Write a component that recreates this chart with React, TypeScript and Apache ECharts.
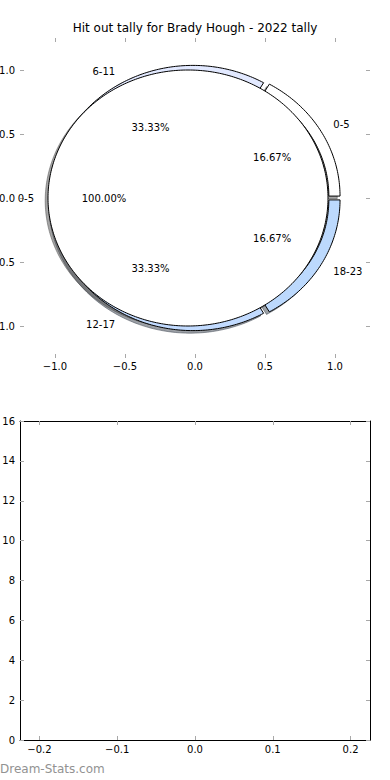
import React, { useEffect, useRef } from "react";
import * as echarts from "echarts";

// ---- data ----
const titleText = "Hit out tally for Brady Hough - 2022 tally";
const outerLabels = ["0-5", "6-11", "12-17", "18-23"];
const outerValues = [1, 2, 2, 1];
const innerLabels = ["0-5"];
const innerValues = [1];
const pieTicks = [-1, -0.5, 0, 0.5, 1];
const lowerXTicks = [-0.2, -0.1, 0, 0.1, 0.2];
const lowerYMin = 0;
const lowerYMax = 16;
const lowerYStep = 2;
const watermark = "Dream-Stats.com";

// ---- style ----
const FONT = "DejaVu Sans";
const OUTER_COLORS = ["#ffffff", "#e2e9ff", "#c2dbff", "#bcd9fd"];
const INNER_COLORS = ["#ffffff"];
const OUTER = { radius: 1.01, width: 0.08, explode: 0.03 };
const INNER = { radius: 1.0, width: 0, explode: 0.05 };
const SHADOW = [-0.02, -0.02];
const LABEL_DIST = 1.1;
const PCT_DIST = 0.6;
const TICK_COLOR = "#a8a8a8";

type Cfg = { radius: number; width: number; explode: number };

function wedges(values: number[], cfg: Cfg) {
  const total = values.reduce((a, b) => a + b, 0);
  let acc = 0;
  return values.map((v) => {
    const t1 = (acc / total) * 360;
    acc += v;
    const t2 = (acc / total) * 360;
    const mid = (((t1 + t2) / 2) * Math.PI) / 180;
    return {
      t1,
      t2,
      mid,
      cx: cfg.explode * Math.cos(mid),
      cy: cfg.explode * Math.sin(mid),
      pct: (v / total) * 100,
    };
  });
}

function wedgePoints(w: any, cfg: Cfg, api: any, dx: number, dy: number) {
  const pts: number[][] = [];
  const span = w.t2 - w.t1;
  const n = Math.max(12, Math.ceil(span));
  for (let k = 0; k <= n; k++) {
    const a = ((w.t1 + (span * k) / n) * Math.PI) / 180;
    pts.push(api.coord([w.cx + dx + cfg.radius * Math.cos(a), w.cy + dy + cfg.radius * Math.sin(a)]));
  }
  if (cfg.width > 0) {
    const r2 = cfg.radius - cfg.width;
    for (let k = n; k >= 0; k--) {
      const a = ((w.t1 + (span * k) / n) * Math.PI) / 180;
      pts.push(api.coord([w.cx + dx + r2 * Math.cos(a), w.cy + dy + r2 * Math.sin(a)]));
    }
  } else if (span < 359.999) {
    pts.push(api.coord([w.cx + dx, w.cy + dy]));
  }
  return pts;
}

function shadowColor(hex: string) {
  const r = parseInt(hex.slice(1, 3), 16);
  const g = parseInt(hex.slice(3, 5), 16);
  const b = parseInt(hex.slice(5, 7), 16);
  return `rgba(${Math.round(r * 0.3)},${Math.round(g * 0.3)},${Math.round(b * 0.3)},0.5)`;
}

function fmt1(v: number) {
  const s = Math.abs(v).toFixed(1);
  return v < -1e-9 ? "\u2212" + s : s;
}

function pieSeries(values: number[], colors: string[], cfg: Cfg, kind: "shadow" | "wedge", z: number) {
  const ws = wedges(values, cfg);
  return {
    type: "custom",
    coordinateSystem: "cartesian2d",
    xAxisIndex: 0,
    yAxisIndex: 0,
    z,
    silent: true,
    clip: false,
    data: values.map((v, i) => [i, v]),
    renderItem: (params: any, api: any) => {
      const i = params.dataIndex;
      const w = ws[i];
      if (kind === "shadow") {
        const c = shadowColor(colors[i]);
        return {
          type: "polygon",
          shape: { points: wedgePoints(w, cfg, api, SHADOW[0], SHADOW[1]) },
          style: { fill: c, stroke: c, lineWidth: 1 },
        };
      }
      return {
        type: "polygon",
        shape: { points: wedgePoints(w, cfg, api, 0, 0) },
        style: { fill: colors[i], stroke: "#000", lineWidth: 1 },
      };
    },
  };
}

function labelSeries(values: number[], labels: string[], cfg: Cfg, z: number) {
  const ws = wedges(values, cfg);
  return {
    type: "custom",
    coordinateSystem: "cartesian2d",
    xAxisIndex: 0,
    yAxisIndex: 0,
    z,
    silent: true,
    clip: false,
    data: values.map((v, i) => [i, v]),
    renderItem: (params: any, api: any) => {
      const i = params.dataIndex;
      const w = ws[i];
      const lx = w.cx + cfg.radius * LABEL_DIST * Math.cos(w.mid);
      const ly = w.cy + cfg.radius * LABEL_DIST * Math.sin(w.mid);
      const px = w.cx + cfg.radius * PCT_DIST * Math.cos(w.mid);
      const py = w.cy + cfg.radius * PCT_DIST * Math.sin(w.mid);
      const lp = api.coord([lx, ly]);
      const pp = api.coord([px, py]);
      return {
        type: "group",
        children: [
          {
            type: "text",
            x: lp[0],
            y: lp[1],
            style: {
              text: labels[i],
              fontSize: 10,
              fontFamily: FONT,
              fill: "#000",
              align: lx > 0 ? "left" : "right",
              verticalAlign: "middle",
            },
          },
          {
            type: "text",
            x: pp[0],
            y: pp[1],
            style: {
              text: w.pct.toFixed(2) + "%",
              fontSize: 10,
              fontFamily: FONT,
              fill: "#000",
              align: "center",
              verticalAlign: "middle",
            },
          },
        ],
      };
    },
  };
}

export default function App() {
  const ref = useRef<HTMLDivElement>(null);
  useEffect(() => {
    if (!ref.current) return;
    const chart = echarts.init(ref.current, undefined, { renderer: "svg" });
    const tick = (cv: number[] | undefined) => ({
      show: true,
      inside: true,
      length: 4,
      ...(cv ? { customValues: cv } : {}),
      lineStyle: { color: TICK_COLOR, width: 1 },
    });
    const lbl = (cv: number[] | undefined, margin: number, formatter: any) => ({
      show: true,
      ...(cv ? { customValues: cv } : {}),
      fontSize: 10,
      fontFamily: FONT,
      color: "#000",
      margin,
      formatter,
    });
    const frame = { show: true, onZero: false, lineStyle: { color: "#000", width: 1 } };
    const noLine = { show: false, onZero: false };

    const option: any = {
      animation: false,
      backgroundColor: "#fff",
      title: {
        text: titleText,
        left: "center",
        top: 22,
        padding: 0,
        textStyle: { fontSize: 12, fontWeight: "normal", fontFamily: FONT, color: "#000" },
      },
      grid: [
        { left: 20, top: 38, width: 350, height: 320, outerBoundsMode: "none", containLabel: false },
        { left: 20, top: 421, width: 350, height: 319, outerBoundsMode: "none", containLabel: false },
      ],
      xAxis: [
        {
          gridIndex: 0, type: "value", min: -1.25, max: 1.25, position: "bottom",
          axisLine: noLine, splitLine: { show: false },
          axisTick: tick(pieTicks), axisLabel: lbl(pieTicks, 3, fmt1),
        },
        {
          gridIndex: 0, type: "value", min: -1.25, max: 1.25, position: "top",
          axisLine: noLine, splitLine: { show: false },
          axisTick: tick(pieTicks), axisLabel: { show: false, customValues: pieTicks },
        },
        {
          gridIndex: 1, type: "value", min: -0.225, max: 0.225, position: "bottom",
          axisLine: frame, splitLine: { show: false },
          axisTick: tick(lowerXTicks), axisLabel: lbl(lowerXTicks, 4, fmt1),
        },
        {
          gridIndex: 1, type: "value", min: -0.225, max: 0.225, position: "top",
          axisLine: frame, splitLine: { show: false },
          axisTick: tick(lowerXTicks), axisLabel: { show: false, customValues: lowerXTicks },
        },
      ],
      yAxis: [
        {
          gridIndex: 0, type: "value", min: -1.25, max: 1.25, position: "left",
          axisLine: noLine, splitLine: { show: false },
          axisTick: tick(pieTicks), axisLabel: lbl(pieTicks, 5, fmt1),
        },
        {
          gridIndex: 0, type: "value", min: -1.25, max: 1.25, position: "right",
          axisLine: noLine, splitLine: { show: false },
          axisTick: tick(pieTicks), axisLabel: { show: false, customValues: pieTicks },
        },
        {
          gridIndex: 1, type: "value", min: lowerYMin, max: lowerYMax, interval: lowerYStep, position: "left",
          axisLine: frame, splitLine: { show: false },
          axisTick: tick(undefined), axisLabel: lbl(undefined, 5, (v: number) => String(v)),
        },
        {
          gridIndex: 1, type: "value", min: lowerYMin, max: lowerYMax, interval: lowerYStep, position: "right",
          axisLine: frame, splitLine: { show: false },
          axisTick: tick(undefined), axisLabel: { show: false },
        },
      ],
      graphic: [
        {
          type: "text",
          left: 0,
          top: 763,
          style: { text: watermark, fontSize: 12, fontFamily: FONT, fill: "#929292" },
        },
      ],
      series: [
        pieSeries(outerValues, OUTER_COLORS, OUTER, "shadow", 1),
        pieSeries(innerValues, INNER_COLORS, INNER, "shadow", 1),
        pieSeries(outerValues, OUTER_COLORS, OUTER, "wedge", 2),
        pieSeries(innerValues, INNER_COLORS, INNER, "wedge", 3),
        labelSeries(outerValues, outerLabels, OUTER, 4),
        labelSeries(innerValues, innerLabels, INNER, 4),
        { type: "line", xAxisIndex: 2, yAxisIndex: 2, data: [], silent: true },
      ],
    };
    chart.setOption(option);
    return () => chart.dispose();
  }, []);
  return (
    <div
      ref={ref}
      style={{ position: "fixed", left: 0, top: 0, width: 390, height: 780, background: "#fff" }}
    />
  );
}
